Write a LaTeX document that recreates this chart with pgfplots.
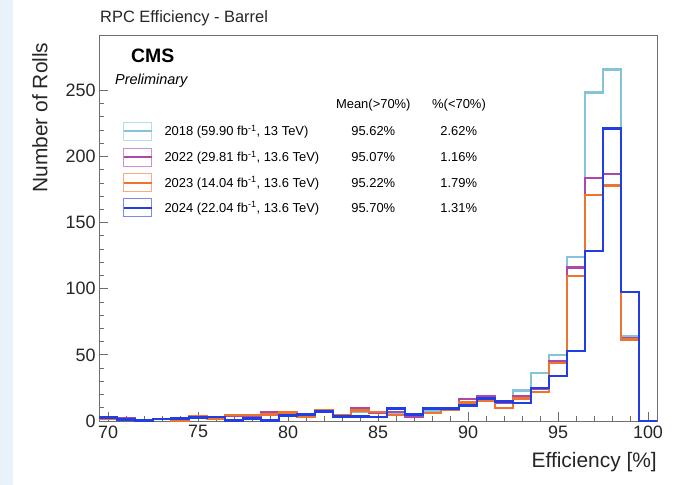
\documentclass[border=0pt]{standalone}
\usepackage{pgfplots}
\pgfplotsset{compat=1.18}
\usepackage{pgfplotstable}
\usepackage{fontspec}
\setmainfont{Liberation Sans}
\definecolor{c18}{RGB}{132,196,214}
\definecolor{c22}{RGB}{172,72,170}
\definecolor{c23}{RGB}{236,116,46}
\definecolor{c24}{RGB}{32,62,228}
\definecolor{framec}{RGB}{110,110,110}
\definecolor{bgblue}{RGB}{232,242,250}
\pgfplotstableread{
x y18 y22 y23 y24
69.5 3 2 2 2.5
70.5 1.5 2 1.5 1
71.5 0.5 0.5 0.5 0.5
72.5 1.5 1.5 1.5 1.5
73.5 2 2 0.5 2
74.5 3 3 4 2.5
75.5 3 3 1.5 3
76.5 4 4 4.5 0.5
77.5 4 4 4.5 2
78.5 5 6.5 5 0.5
79.5 4.5 5 6.5 4
80.5 4 4 3 5
81.5 8 8.5 8 7
82.5 4.5 4.5 4.5 3.5
83.5 7 9.5 8 3.5
84.5 6 6.5 7 3
85.5 6 7 4.5 9.5
86.5 4 3 4.5 5
87.5 8 10 6 9.5
88.5 9 9.5 8.5 9.5
89.5 13.5 16.5 14 11.5
90.5 16 19 15 17
91.5 14.5 14 10 15
92.5 23 19 17 13.5
93.5 36.5 24 22 25
94.5 50 45.5 44 34
95.5 124 116 109.5 53
96.5 248.5 184 171 128.5
97.5 266 187 178 221
98.5 64 63 61.5 97.5
99.5 0 0 0 0
100.5 0 0 0 0
}\histdata
\newcommand{\invfb}{fb\textsuperscript{-1}}
\begin{document}
\begin{tikzpicture}[x=1bp,y=1bp]
\path (0,0) rectangle (680,485);
\fill[bgblue] (0,0) rectangle (13,485);
\begin{axis}[
  set layers,
  scale only axis, width=558bp, height=386bp,
  at={(99bp,64bp)}, anchor=south west,
  xmin=69.5, xmax=100.5, ymin=0, ymax=292,
  xtick={70,75,...,100}, ytick={0,50,...,250},
  minor x tick num=4, minor y tick num=4,
  tick align=inside, xtick pos=bottom, ytick pos=left,
  major tick length=9bp, minor tick length=5bp,
  axis line style={framec, line width=0.9bp},
  every tick/.style={framec, line width=0.9bp},
  /pgf/number format/assume math mode=true,
  ticklabel style={font=\fontsize{18}{18}\selectfont, text=black!85},
  xticklabel style={yshift=-1bp},
  clip=false,
]
\addplot[const plot, c18, line width=2.4bp] table[x=x,y=y18]{\histdata};
\addplot[const plot, c22, line width=2.4bp] table[x=x,y=y22]{\histdata};
\addplot[const plot, c23, line width=2.4bp] table[x=x,y=y23]{\histdata};
\addplot[const plot, c24, line width=2.7bp] table[x=x,y=y24]{\histdata};
\end{axis}
% titles and labels
\node[anchor=west, font=\fontsize{16.5}{16.5}\selectfont, text=black!85, inner sep=0] at (100,467) {RPC Efficiency - Barrel};
\node[anchor=east, font=\fontsize{21}{21}\selectfont, text=black!85, inner sep=0] at (657,23) {Efficiency [\%]};
\node[rotate=90, anchor=center, font=\fontsize{21}{21}\selectfont, text=black!85, inner sep=0] at (40,367.5) {Number of Rolls};
% CMS labels
\node[anchor=west, font=\fontsize{19.5}{19.5}\selectfont\bfseries, inner sep=0] at (131,429.5) {CMS};
\node[anchor=west, font=\fontsize{14.5}{14.5}\selectfont\itshape, inner sep=0] at (115,404) {Preliminary};
% legend
\begin{scope}[font=\fontsize{13}{13}\selectfont]
\node[anchor=center, inner sep=0] at (373.3,379.5) {Mean(>70\%)};
\node[anchor=center, inner sep=0] at (459,379.5) {\%(<70\%)};
\foreach \yy/\col/\lab/\mean/\pct in {
  354/c18/{2018 (59.90 \invfb, 13 TeV)}/95.62\%/2.62\%,
  328/c22/{2022 (29.81 \invfb, 13.6 TeV)}/95.07\%/1.16\%,
  302.3/c23/{2023 (14.04 \invfb, 13.6 TeV)}/95.22\%/1.79\%,
  277.3/c24/{2024 (22.04 \invfb, 13.6 TeV)}/95.70\%/1.31\%} {
  \draw[\col!60, line width=0.8bp] (123.5,\yy-9) rectangle (151.5,\yy+9);
  \draw[\col, line width=2.2bp] (123.5,\yy) -- (151.5,\yy);
  \node[anchor=west, inner sep=0] at (164.3,\yy-0.5) {\lab};
  \node[anchor=center, inner sep=0] at (373.3,\yy-0.5) {\mean};
  \node[anchor=center, inner sep=0] at (458.7,\yy-0.5) {\pct};
}
\end{scope}
\end{tikzpicture}
\end{document}
